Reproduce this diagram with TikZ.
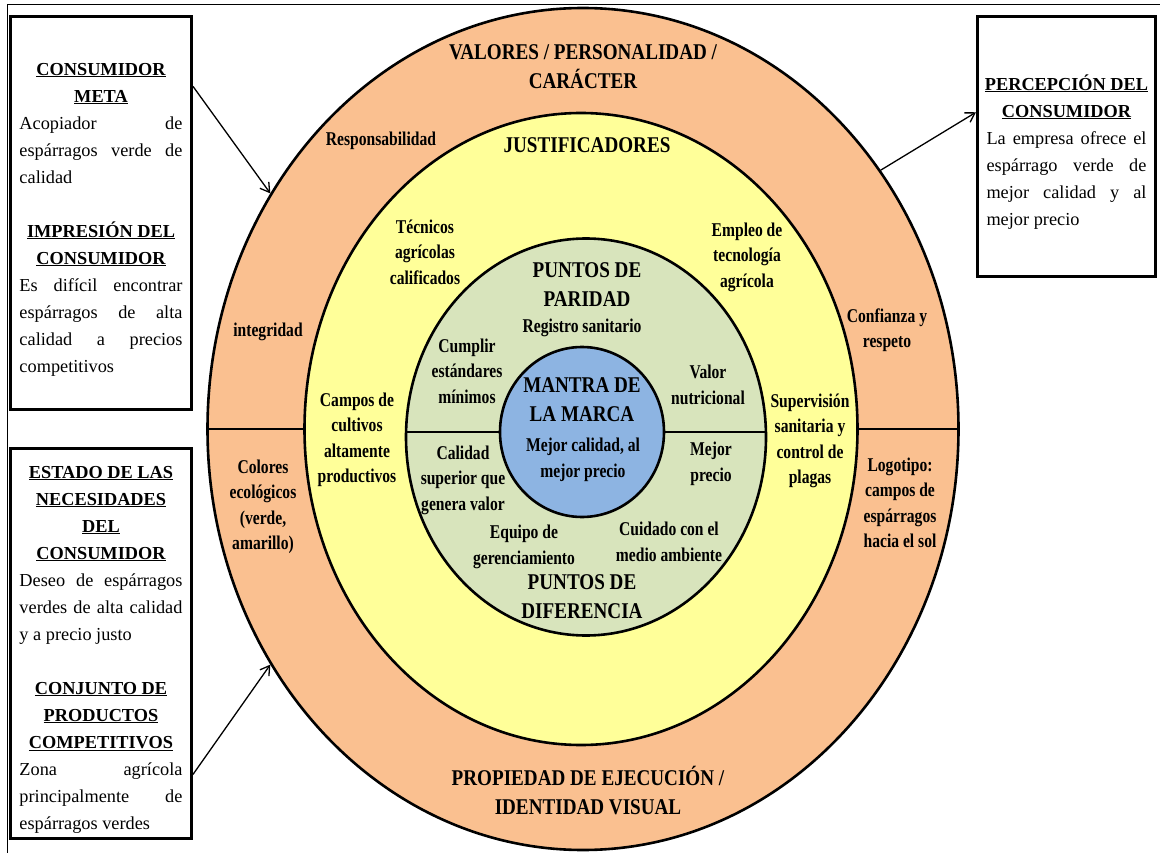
\documentclass[tikz,border=0pt]{standalone}
\usepackage{fontspec}
\setmainfont{Liberation Serif}
\newfontfamily\ringfont[FakeStretch=0.85]{Liberation Serif}
\newfontfamily\labelfont[FakeStretch=0.8]{Liberation Serif}
\usepackage{tikz}
\usetikzlibrary{arrows.meta}
\usetikzlibrary{shapes.geometric}
\definecolor{ringorange}{RGB}{250,192,144}
\definecolor{ringyellow}{RGB}{255,255,153}
\definecolor{ringgreen}{RGB}{216,228,188}
\definecolor{ringblue}{RGB}{141,180,226}
\newcommand{\boxhead}[1]{{\noindent\makebox[\hsize]{\bfseries\underline{#1}}\par}}
\newcommand{\boxfont}{\fontsize{18.3}{27}\selectfont\parindent0pt\tolerance10000\hbadness10000\relax}

\begin{document}
\begin{tikzpicture}[x=1pt,y=-1pt]
\tikzstyle{ring}=[ellipse, draw, line width=2.6pt, inner sep=0pt]
\tikzstyle{lbl}=[align=center, inner sep=0pt, font=\labelfont\bfseries\fontsize{19.5}{25.5}\selectfont]
\tikzstyle{head}=[align=center, inner sep=0pt, font=\ringfont\bfseries\fontsize{22.5}{29}\selectfont]
\tikzstyle{infobox}=[rectangle, draw, line width=3pt, inner xsep=9pt, inner ysep=0pt, text width=163pt,
    align=justify, font=\boxfont]
\tikzstyle{arr}=[-{Straight Barb[length=9pt,width=11pt]}, line width=1.3pt]

\useasboundingbox (0,0) rectangle (1160,853);
\draw[line width=1pt] (7,853) -- (7,5) -- (1160,5);

    \node[ring, fill=ringorange, minimum width=751pt, minimum height=842pt] (E1) at (583,429) {};
    \node[ring, fill=ringyellow, minimum width=553pt, minimum height=632pt] (E2) at (581,429) {};
    \node[ring, fill=ringgreen, minimum width=360pt, minimum height=397pt] (E3) at (586,437) {};
    \node[ring, fill=ringblue, minimum width=164pt, minimum height=170pt] (E4) at (582,432) {};

\draw[line width=1.2pt] (E2.west) -- (E2.west -| E1.west);
\draw[line width=1.2pt] (E2.east) -- (E2.east -| E1.east);
\draw[line width=1.2pt] (E4.west) -- (E4.west -| E3.west);
\draw[line width=1.2pt] (E4.east) -- (E4.east -| E3.east);

% ring titles
\node[head] (valores) at (583,67) {VALORES / PERSONALIDAD /\\CARÁCTER};
\node[head] (justif) at (587,145) {JUSTIFICADORES};
\node[head] (paridad) at (587,285) {PUNTOS DE\\PARIDAD};
\node[head] (mantra) at (582,400) {MANTRA DE\\LA MARCA};
\node[head] (diferencia) at (582,597) {PUNTOS DE\\DIFERENCIA};
\node[head] (propiedad) at (588,791) {PROPIEDAD DE EJECUCIÓN /\\IDENTIDAD VISUAL};

% outer ring
\node[lbl] (resp) at (381,141) {Responsabilidad};
\node[lbl] (integ) at (268,332) {integridad};
\node[lbl] (confianza) at (887,330) {Confianza y\\respeto};
\node[lbl] (colores) at (263,507) {Colores\\ecológicos\\(verde,\\amarillo)};
\node[lbl] (logo) at (900,503) {Logotipo:\\campos de\\espárragos\\hacia el sol};

% yellow ring
\node[lbl] (tecnicos) at (425,252) {Técnicos\\agrícolas\\calificados};
\node[lbl] (empleo) at (747,257) {Empleo de\\tecnología\\agrícola};
\node[lbl] (campos) at (357,440) {Campos de\\cultivos\\altamente\\productivos};
\node[lbl] (superv) at (810,441) {Supervisión\\sanitaria y\\control de\\plagas};

% green ring
\node[lbl] (registro) at (582,328) {Registro sanitario};
\node[lbl] (cumplir) at (467,371) {Cumplir\\estándares\\mínimos};
\node[lbl] (valor) at (708,385) {Valor\\nutricional};
\node[lbl] (calidad) at (463,480) {Calidad\\superior que\\genera valor};
\node[lbl] (precio) at (711,464) {Mejor\\precio};
\node[lbl] (equipo) at (524,547) {Equipo de\\gerenciamiento};
\node[lbl] (cuidado) at (669,542) {Cuidado con el\\medio ambiente};

% blue core
\node[lbl] (mejor) at (583,460) {Mejor calidad, al\\mejor precio};

% side boxes
\node[infobox, minimum height=392pt] (B1) at (101,213) {%
\vspace*{-2pt}
\boxhead{CONSUMIDOR}\boxhead{META}
Acopiador de\linebreak espárragos verde de\linebreak calidad\par\vspace{27pt}
\boxhead{IMPRESIÓN DEL}\boxhead{CONSUMIDOR}
Es difícil encontrar\linebreak espárragos de alta\linebreak calidad a precios\linebreak competitivos};

\node[infobox, minimum height=390pt] (B2) at (101,643) {%
\vspace*{-2pt}
\boxhead{ESTADO DE LAS}\boxhead{NECESIDADES}\boxhead{DEL}\boxhead{CONSUMIDOR}
Deseo de espárragos\linebreak verdes de alta calidad\linebreak y a precio justo\par\vspace{27pt}
\boxhead{CONJUNTO DE}\boxhead{PRODUCTOS}\boxhead{COMPETITIVOS}
Zona agrícola\linebreak principalmente de\linebreak espárragos verdes};

\node[infobox, text width=160pt, minimum height=260pt] (B3) at (1066.5,147) {%
\vspace*{-2pt}
\boxhead{PERCEPCIÓN DEL}\boxhead{CONSUMIDOR}
La empresa ofrece el\linebreak espárrago verde de\linebreak mejor calidad y al\linebreak mejor precio};

\draw[arr] (B1.54) -- (E1.143);
\draw[arr] (B2.305) -- (E1.217);
\draw[arr] (E1.41) -- (B3.159);
\end{tikzpicture}
\end{document}
